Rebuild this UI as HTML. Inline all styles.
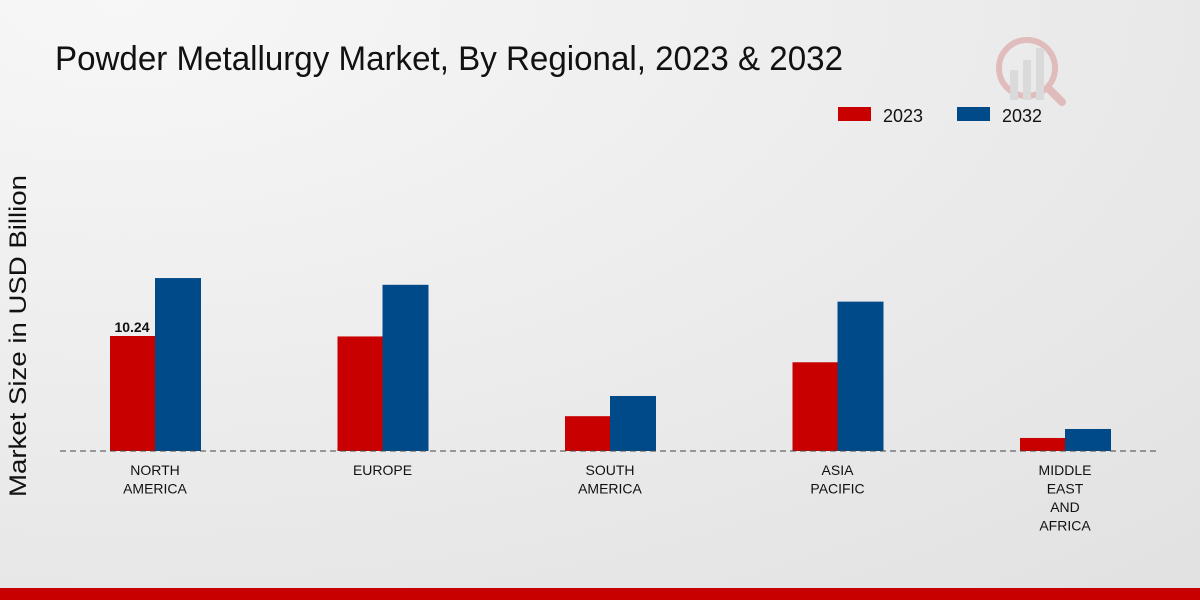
<!DOCTYPE html>
<html><head><meta charset="utf-8"><style>
html,body{margin:0;padding:0;width:1200px;height:600px;overflow:hidden}
svg{display:block;font-family:"Liberation Sans",sans-serif}
</style></head><body>
<svg width="1200" height="600">
<defs><radialGradient id="bg" cx="0.1" cy="0" r="1.3"><stop offset="0" stop-color="#f7f7f7"/><stop offset="1" stop-color="#e2e2e2"/></radialGradient></defs>
<rect width="1200" height="600" fill="url(#bg)"/>
<text x="55" y="70" font-size="34" textLength="788" lengthAdjust="spacingAndGlyphs" fill="#111">Powder Metallurgy Market, By Regional, 2023 &amp; 2032</text>
<g opacity="0.35">
<circle cx="1027" cy="68" r="28" fill="none" stroke="#c66" stroke-width="6"/>
<rect x="1010" y="70" width="8" height="30" fill="#bbb"/><rect x="1023" y="60" width="8" height="40" fill="#bbb"/><rect x="1036" y="48" width="8" height="52" fill="#bbb"/>
<line x1="1050" y1="90" x2="1062" y2="102" stroke="#c66" stroke-width="8" stroke-linecap="round"/>
</g>
<g>
<rect x="838" y="107" width="33" height="14" fill="#c80000"/>
<text x="883" y="122" font-size="18" textLength="40" lengthAdjust="spacingAndGlyphs" fill="#111">2023</text>
<rect x="957" y="107" width="33" height="14" fill="#004a8a"/>
<text x="1002" y="122" font-size="18" textLength="40" lengthAdjust="spacingAndGlyphs" fill="#111">2032</text>
</g>
<text transform="translate(26,336) rotate(-90)" text-anchor="middle" font-size="24" textLength="322" lengthAdjust="spacingAndGlyphs" fill="#111">Market Size in USD Billion</text>
<g id="plot"></g>
<line x1="60" y1="451" x2="1160" y2="451" stroke="#444" stroke-dasharray="6,4"/>
<rect x="0" y="588" width="1200" height="12" fill="#c80000"/>
</svg>
<script>
const categories=[["NORTH","AMERICA"],["EUROPE"],["SOUTH","AMERICA"],["ASIA","PACIFIC"],["MIDDLE","EAST","AND","AFRICA"]];
const values2023=[10.24,10.2,3.1,7.9,1.16];
const values2032=[15.4,14.8,4.9,13.3,1.96];
const ns="http://www.w3.org/2000/svg";
const g=document.getElementById('plot');
const y0=451, k=11.23;
const y=v=>y0-v*k;
const xc=i=>155+i*227.5;
function mk(t,a){const e=document.createElementNS(ns,t);for(const n in a)e.setAttribute(n,a[n]);g.appendChild(e);return e;}
categories.forEach((c,i)=>{
 let r=mk('rect',{x:xc(i)-45,y:y(values2023[i]),width:45,height:values2023[i]*k,fill:'#c80000'});
 
 
 let b=mk('rect',{x:xc(i),y:y(values2032[i]),width:46,height:values2032[i]*k,fill:'#004a8a'});
 
 
 c.forEach((l,j)=>{let t=mk('text',{x:xc(i),y:475+j*18.5,'text-anchor':'middle','font-size':14,fill:'#111'});t.textContent=l;
 
 });
});
let lab=mk('text',{x:xc(0)-23,y:y(values2023[0])-4,'text-anchor':'middle','font-size':14,'font-weight':'bold',fill:'#111'});
lab.textContent=values2023[0].toFixed(2);


</script>
</body></html>
